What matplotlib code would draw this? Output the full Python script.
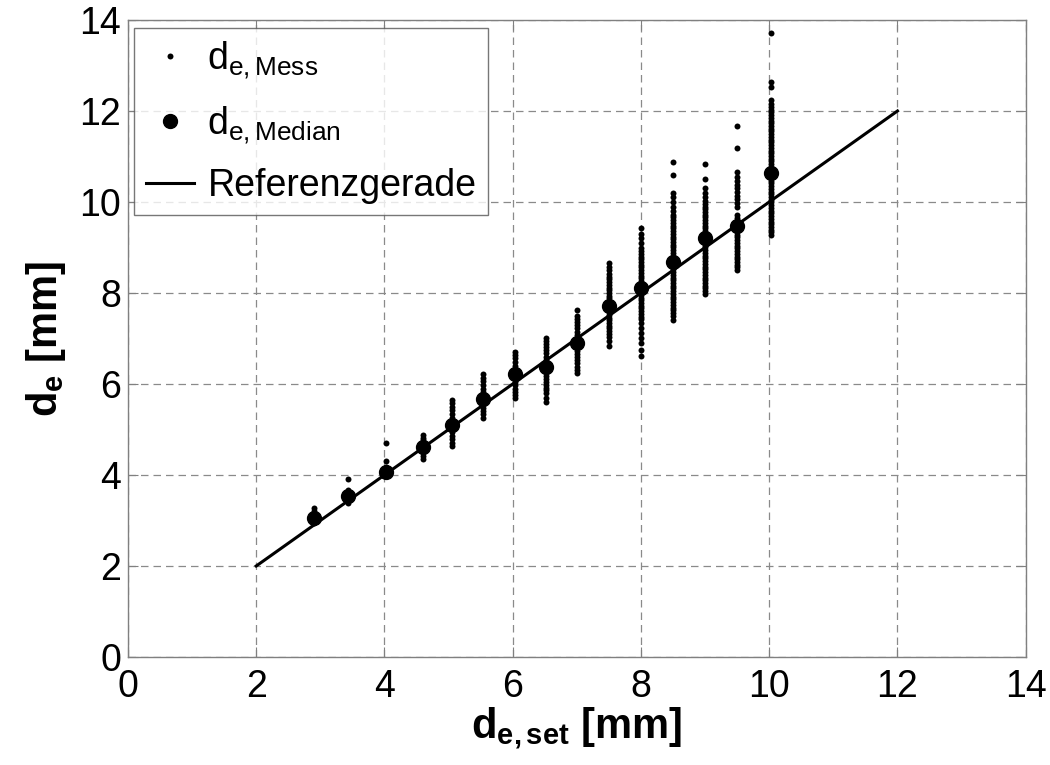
import matplotlib
matplotlib.use("Agg")
import matplotlib.pyplot as plt

plt.rcParams["font.family"] = ["Liberation Sans", "DejaVu Sans"]
plt.rcParams["mathtext.fontset"] = "custom"
plt.rcParams["mathtext.rm"] = "Liberation Sans"
plt.rcParams["mathtext.it"] = "Liberation Sans"
plt.rcParams["mathtext.bf"] = "Liberation Sans:bold"

# set diameters and the median of the measured diameters (mm)
d_set = [2.9, 3.43, 4.02, 4.6, 5.06, 5.53, 6.03, 6.52, 7.0, 7.5, 8.0, 8.5, 9.0, 9.5, 10.02]
d_median = [3.05, 3.54, 4.07, 4.62, 5.10, 5.67, 6.22, 6.37, 6.90, 7.71, 8.11, 8.68, 9.21, 9.47, 10.64]

# measured diameters per set value (read from the dot columns)
d_mess = [
    [2.95, 3.0, 3.05, 3.1, 3.15, 3.2, 3.27],
    [3.38, 3.45, 3.5, 3.55, 3.6, 3.66, 3.91],
    [3.97, 4.03, 4.08, 4.13, 4.18, 4.31, 4.70],
    [4.36, 4.42, 4.48, 4.55, 4.6, 4.65, 4.7, 4.76, 4.82, 4.88],
    [4.63, 4.7, 4.78, 4.86, 4.94, 5.02, 5.1, 5.18, 5.26, 5.34, 5.42, 5.5, 5.58, 5.65],
    [5.26, 5.33, 5.4, 5.47, 5.54, 5.61, 5.68, 5.75, 5.82, 5.9, 5.98, 6.06, 6.14, 6.22],
    [5.69, 5.76, 5.83, 5.9, 5.97, 6.04, 6.11, 6.18, 6.25, 6.32, 6.4, 6.48, 6.56, 6.63, 6.7],
    [5.6, 5.7, 5.8, 5.86, 5.92, 5.98, 6.04, 6.11, 6.18, 6.25, 6.32, 6.39, 6.46, 6.53,
     6.6, 6.67, 6.74, 6.81, 6.88, 6.95, 7.01],
    [6.24, 6.31, 6.38, 6.45, 6.52, 6.59, 6.66, 6.73, 6.8, 6.87, 6.94, 7.01, 7.08, 7.15,
     7.22, 7.29, 7.36, 7.43, 7.5, 7.63],
    [6.84, 6.95, 7.04, 7.1, 7.16, 7.22, 7.28, 7.34, 7.4, 7.46, 7.52, 7.58, 7.64, 7.7,
     7.76, 7.82, 7.88, 7.94, 8.0, 8.06, 8.12, 8.18, 8.24, 8.3, 8.36, 8.42, 8.5, 8.58, 8.66],
    [6.62, 6.75, 6.9, 7.0, 7.12, 7.22, 7.35, 7.42, 7.48, 7.54, 7.6, 7.66, 7.72, 7.78,
     7.84, 7.9, 7.96, 8.02, 8.08, 8.14, 8.2, 8.26, 8.32, 8.38, 8.44, 8.5, 8.56, 8.62,
     8.68, 8.74, 8.8, 8.86, 8.92, 8.98, 9.1, 9.2, 9.3, 9.43],
    [7.41, 7.5, 7.56, 7.62, 7.68, 7.74, 7.8, 7.86, 7.92, 7.98, 8.04, 8.1, 8.16, 8.22,
     8.28, 8.34, 8.4, 8.46, 8.52, 8.58, 8.64, 8.7, 8.76, 8.82, 8.88, 8.94, 9.0, 9.06,
     9.12, 9.18, 9.24, 9.3, 9.36, 9.42, 9.48, 9.54, 9.6, 9.66, 9.72, 9.8, 9.9, 10.0,
     10.1, 10.2, 10.6, 10.88],
    [7.98, 8.04, 8.1, 8.16, 8.22, 8.28, 8.34, 8.4, 8.46, 8.52, 8.58, 8.64, 8.7, 8.76,
     8.82, 8.88, 8.94, 9.0, 9.06, 9.12, 9.18, 9.24, 9.3, 9.36, 9.42, 9.48, 9.54, 9.6,
     9.66, 9.72, 9.78, 9.84, 9.9, 9.96, 10.02, 10.1, 10.2, 10.3, 10.5, 10.84],
    [8.5, 8.56, 8.62, 8.68, 8.74, 8.8, 8.86, 8.92, 8.98, 9.04, 9.1, 9.16, 9.22, 9.28,
     9.34, 9.4, 9.46, 9.52, 9.58, 9.64, 9.72, 9.9, 9.98, 10.06, 10.14, 10.22, 10.3,
     10.38, 10.46, 10.54, 10.66, 11.19, 11.67],
    [9.27, 9.33, 9.39, 9.45, 9.51, 9.57, 9.63, 9.69, 9.75, 9.81, 9.87, 9.93, 9.99, 10.05,
     10.11, 10.17, 10.23, 10.29, 10.35, 10.41, 10.47, 10.53, 10.59, 10.65, 10.71, 10.77,
     10.83, 10.89, 10.95, 11.01, 11.07, 11.13, 11.19, 11.25, 11.31, 11.37, 11.43, 11.49,
     11.55, 11.61, 11.67, 11.73, 11.79, 11.85, 11.91, 11.97, 12.03, 12.09, 12.15, 12.24,
     12.53, 12.64, 13.71],
]

ref_x = [2, 12]
ref_y = [2, 12]

fig = plt.figure(figsize=(10.5, 7.65), dpi=100)
ax = fig.add_axes([0.1219, 0.1412, 0.855, 0.8327])

xs, ys = [], []
for xv, vals in zip(d_set, d_mess):
    xs += [xv] * len(vals)
    ys += vals
ax.plot(xs, ys, "o", color="black", ms=4.3, mew=0, ls="none", label=r"$\mathrm{d_{e,Mess}}$", zorder=3)
ax.plot(d_set, d_median, "o", color="black", ms=10, ls="none", label=r"$\mathrm{d_{e,Median}}$", zorder=4)
ax.plot(ref_x, ref_y, "-", color="black", lw=2.2, label="Referenzgerade", zorder=2)

ax.set_xlim(0, 14)
ax.set_ylim(0, 14)
ax.set_xticks(range(0, 15, 2))
ax.set_yticks(range(0, 15, 2))
ax.grid(True, ls=(0, (6, 4)), color="#8a8a8a", lw=0.9)
ax.set_axisbelow(True)
ax.tick_params(direction="in", length=7, width=0.8, color="#808080", labelsize=27,
               top=True, right=True)
ax.tick_params(axis="x", pad=9)
ax.tick_params(axis="y", pad=5)
for s in ax.spines.values():
    s.set_color("#808080")
    s.set_linewidth(1.0)

ax.set_xlabel(r"$\mathbf{d_{e,set}}$ [mm]", fontsize=30, fontweight="bold", labelpad=0)
ax.set_ylabel(r"$\mathbf{d_{e}}$ [mm]", fontsize=30, fontweight="bold", labelpad=8)

leg = ax.legend(loc="upper left", bbox_to_anchor=(0.007, 0.987), fontsize=27, frameon=True,
                fancybox=False, edgecolor="#555555", handlelength=1.3, handletextpad=0.35,
                borderpad=0.3, labelspacing=0.6, borderaxespad=0)
leg.get_frame().set_linewidth(1.0)

fig.savefig("out.png", dpi=100)
